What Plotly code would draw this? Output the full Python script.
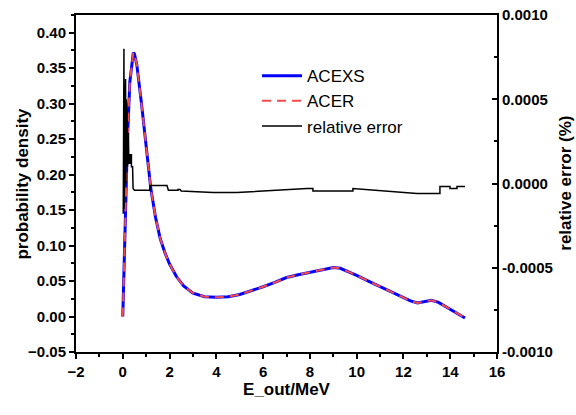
import plotly.graph_objects as go

# ---- data ----
e_pdf = [0.0, 0.05, 0.1, 0.2, 0.3, 0.4, 0.45, 0.5, 0.6, 0.8, 1.0, 1.2, 1.4, 1.6, 1.8, 2.0,
         2.3, 2.6, 3.0, 3.5, 4.0, 4.5, 5.0, 5.5, 6.0, 6.5, 7.0, 7.5, 8.0, 8.5, 9.0, 9.3,
         9.6, 10.0, 10.5, 11.0, 11.5, 12.0, 12.3, 12.6, 12.9, 13.2, 13.5, 13.8, 14.1,
         14.3, 14.5, 14.63]
acexs = [0.0, 0.06, 0.14, 0.25, 0.33, 0.365, 0.372, 0.37, 0.355, 0.30, 0.235, 0.18, 0.14,
         0.11, 0.09, 0.074, 0.056, 0.043, 0.033, 0.028, 0.027, 0.028, 0.031, 0.036, 0.042,
         0.048, 0.055, 0.059, 0.062, 0.066, 0.069, 0.068, 0.064, 0.058, 0.050, 0.042,
         0.034, 0.027, 0.022, 0.019, 0.021, 0.023, 0.020, 0.014, 0.008, 0.004, 0.0, -0.002]
acer = list(acexs)

e_err = [0.02, 0.03, 0.04, 0.05, 0.055, 0.08, 0.10, 0.12, 0.13, 0.15, 0.17, 0.18, 0.20,
         0.24, 0.26, 0.31, 0.31, 0.37, 0.37, 0.42, 0.44, 0.50, 1.16, 1.16, 1.89, 1.95,
         2.36, 2.36, 2.45, 2.5, 3.86, 4.88, 7.88, 8.13, 8.13, 9.84, 9.84, 12.58, 13.43,
         13.56, 13.56, 13.99, 13.99, 14.29, 14.29, 14.63]
rel_err = [-0.00018, 0.0002, -0.0001, 0.0008, -0.00015, 0.0003, 0.0001, 0.00062, 0.0,
           0.0005, 0.0002, 0.00045, 0.0001, 0.0003, 0.00012, 0.00012, 0.00017, 0.00017,
           0.0001, 0.0001, -0.00003, -0.00004, -0.00004, -0.000012, -0.000012, -0.00004,
           -0.00004, -0.000036, -0.000036, -0.000045, -0.000053, -0.000053, -0.00003,
           -0.00003, -0.000045, -0.000045, -0.00003, -0.000059, -0.000059, -0.000059,
           -0.000018, -0.000018, -0.00003, -0.00003, -0.000018, -0.000018]

x_ticks = [-2, 0, 2, 4, 6, 8, 10, 12, 14, 16]
y_ticks = [-0.05, 0.0, 0.05, 0.10, 0.15, 0.20, 0.25, 0.30, 0.35, 0.40]
y2_ticks = [-0.001, -0.0005, 0.0, 0.0005, 0.001]
y2_ticktext = ["-0.0010", "-0.0005", "0.0000", "0.0005", "0.0010"]

FONT = "Liberation Sans, Arial, sans-serif"

fig = go.Figure()
fig.add_trace(go.Scatter(x=e_pdf, y=acexs, name="ACEXS", mode="lines",
                         line=dict(color="#0000ff", width=3)))
fig.add_trace(go.Scatter(x=e_pdf, y=acer, name="ACER", mode="lines",
                         line=dict(color="#f24b4b", width=2, dash="9px,6px")))
fig.add_trace(go.Scatter(x=e_err, y=rel_err, name="relative error", mode="lines",
                         line=dict(color="black", width=1.5), yaxis="y2"))

tickfont = dict(family=FONT, size=15, color="black", weight="bold")
titlefont = dict(family=FONT, size=17, color="black", weight="bold")

fig.update_layout(
    width=576, height=415,
    margin=dict(l=76, r=79, t=15, b=63, autoexpand=False),
    paper_bgcolor="white", plot_bgcolor="white",
    showlegend=True,
    legend=dict(x=0.430, y=0.872, xanchor="left", yanchor="top",
                bgcolor="rgba(0,0,0,0)", font=dict(family=FONT, size=17, color="black"),
                tracegroupgap=0, itemwidth=40),
    xaxis=dict(range=[-2, 16], tickvals=x_ticks, showgrid=False, zeroline=False,
               showline=True, linecolor="black", linewidth=2, mirror=True,
               ticks="outside", ticklen=5, tickwidth=2, tickcolor="black",
               tickfont=tickfont, ticklabeloverflow="allow",
               minor=dict(dtick=1, tick0=-2, ticks="outside", ticklen=3, tickwidth=2,
                          tickcolor="black"),
               title=dict(text="E_out/MeV", font=titlefont, standoff=2)),
    yaxis=dict(range=[-0.05, 0.425], tickvals=y_ticks, tickformat=".2f",
               showgrid=False, zeroline=False,
               showline=True, linecolor="black", linewidth=2,
               ticks="outside", ticklen=5, tickwidth=2, tickcolor="black",
               tickfont=tickfont, ticklabeloverflow="allow",
               minor=dict(dtick=0.025, tick0=-0.05, ticks="outside", ticklen=3, tickwidth=2,
                          tickcolor="black")),
    yaxis2=dict(range=[-0.001, 0.001], tickvals=y2_ticks, ticktext=y2_ticktext,
                overlaying="y", side="right", showgrid=False, zeroline=False,
                showline=True, linecolor="black", linewidth=2,
                ticks="inside", ticklen=5, tickwidth=2, tickcolor="black",
                tickfont=tickfont, ticklabeloverflow="allow",
                minor=dict(dtick=0.00025, tick0=-0.001, ticks="inside", ticklen=3, tickwidth=2,
                           tickcolor="black")),
    annotations=[
        dict(text="probability density", xref="paper", yref="paper",
             x=-0.128, y=0.5, xanchor="center", yanchor="middle",
             textangle=-90, showarrow=False, font=titlefont),
        dict(text="relative error (%)", xref="paper", yref="paper",
             x=1.162, y=0.5, xanchor="center", yanchor="middle",
             textangle=-90, showarrow=False, font=titlefont),
    ],
)

# remove the browser's default 8px body margin so the figure fills the window exactly
fig.write_html("out.html",
               config={"displayModeBar": False},
               post_script="document.body.style.margin='0';document.body.style.overflow='hidden';")
